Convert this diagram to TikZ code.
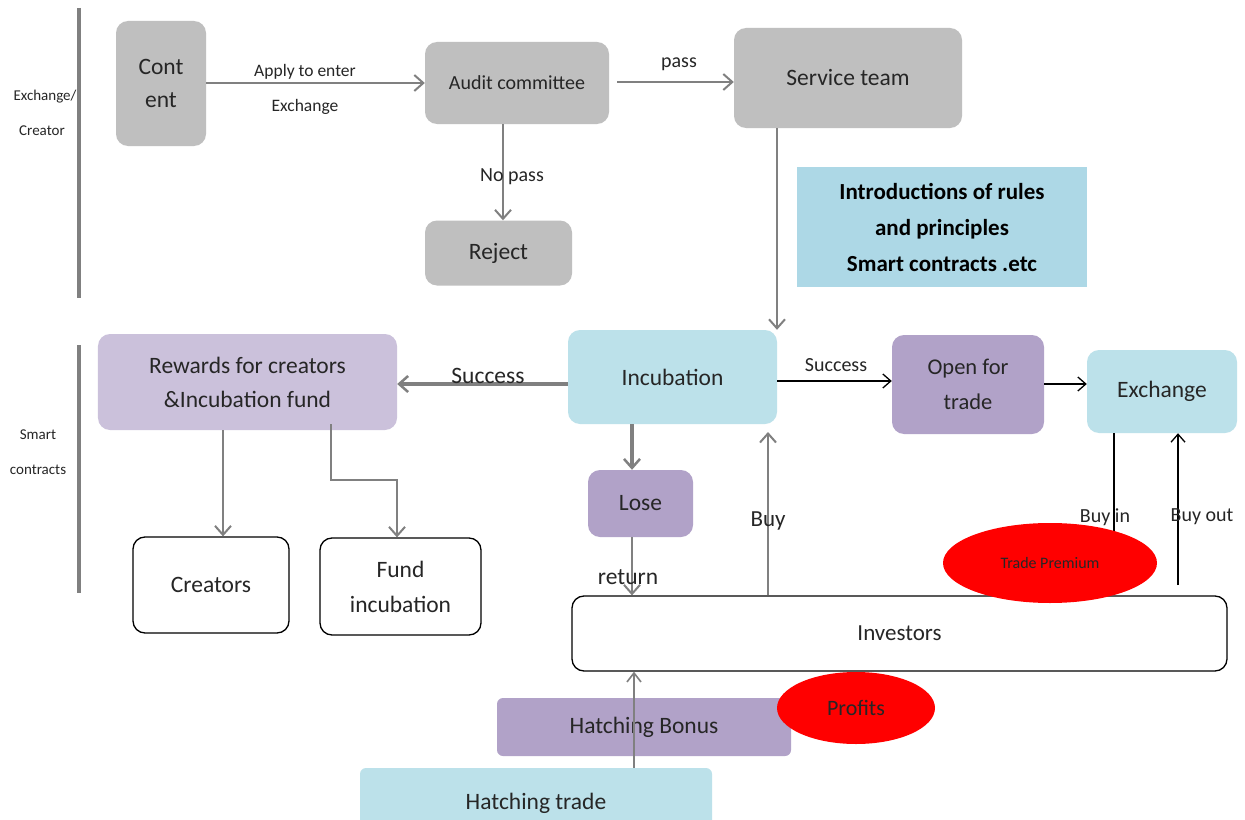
\documentclass[tikz,border=0pt]{standalone}
\usepackage{fontspec}
\setmainfont{Carlito}
\usetikzlibrary{arrows.meta,shapes.geometric}
\definecolor{boxgray}{HTML}{BFBFBF}
\definecolor{lblue}{HTML}{BCE1EA}
\definecolor{iblue}{HTML}{ADD8E6}
\definecolor{lav}{HTML}{CBC1DB}
\definecolor{purp}{HTML}{B1A2C8}
\definecolor{agray}{HTML}{808080}
\definecolor{txt}{HTML}{262626}
\tikzset{
  box/.style={rounded corners=12bp, inner sep=0pt, align=center, text=txt},
  graybox/.style={box, fill=boxgray},
  bluebox/.style={box, fill=lblue},
  lavbox/.style={box, fill=lav},
  purpbox/.style={box, fill=purp},
  whitebox/.style={box, draw=black, line width=1.3bp, fill=white},
  garrow/.style={draw=agray, line width=2bp, -{Straight Barb[length=9bp,width=16bp,line width=2bp]}},
  gthick/.style={draw=agray, line width=4bp, -{Straight Barb[length=9bp,width=16bp,line width=2.5bp]}},
  barrow/.style={draw=black, line width=1.1bp, -{Straight Barb[length=8bp,width=14bp,line width=1.3bp]}},
  lbl/.style={text=txt, inner sep=0pt},
  redell/.style={ellipse, fill=red, inner sep=0pt, text=txt},
  big/.style={font=\fontsize{23.5bp}{26bp}\selectfont},
  small/.style={font=\fontsize{15bp}{17bp}\selectfont},
  mid/.style={font=\fontsize{20bp}{23bp}\selectfont},
}
\begin{document}
\begin{tikzpicture}[x=1bp,y=-1bp]
\useasboundingbox (0,0) rectangle (1245,820);
\fill[white] (0,0) rectangle (1245,820);
\fontsize{23.5bp}{26bp}\selectfont
% side bars
\draw[agray, line width=3.5bp] (79,8) -- (79,298);
\draw[agray, line width=3.5bp] (79,345) -- (79,593);
\node[lbl, small] (l1) at (45,97) {Exchange/};
\node[lbl, small] (l2) at (42,131) {Creator};
\node[lbl, small] (l3) at (38,435) {Smart};
\node[lbl, small] (l4) at (38,470) {contracts};
% top row
\node[graybox, minimum width=90bp, minimum height=125bp, font=\fontsize{23.5bp}{33bp}\selectfont] (content) at (161,83.5) {Cont\\ent};
\node[graybox, minimum width=184bp, minimum height=82bp, mid] (audit) at (517,83) {Audit committee};
\node[graybox, minimum width=228bp, minimum height=100bp, big] (service) at (848,78) {Service team};
\node[graybox, minimum width=147bp, minimum height=65bp, big] (reject) at (498.5,253) {Reject};
\node[fill=iblue, minimum width=290bp, minimum height=120bp, inner sep=0pt, align=center, text=black, font=\bfseries\fontsize{23bp}{36bp}\selectfont] (intro) at (942,227) {Introductions of rules\\and principles\\Smart contracts .etc};
\draw[garrow] (content.east |- 0,83) -- (audit.west |- 0,83);
\node[lbl, font=\fontsize{17.5bp}{20bp}\selectfont] (apply1) at (305,72) {Apply to enter};
\node[lbl, font=\fontsize{17.5bp}{20bp}\selectfont] (apply2) at (305,107) {Exchange};
\coordinate (passS) at (617,82);
\draw[garrow] (passS) -- (service.west |- passS);
\node[lbl, mid] (passl) at (679,64) {pass};
\draw[garrow] (503,124) -- (reject.north -| 503,0);
\node[lbl, mid] (nopass) at (512,177) {No pass};
% middle row
\node[bluebox, minimum width=209bp, minimum height=94bp, big] (incub) at (672.5,377) {Incubation};
\node[lavbox, minimum width=299bp, minimum height=96bp, font=\fontsize{23.5bp}{34bp}\selectfont] (rewards) at (247.5,382) {Rewards for creators\\\&Incubation fund};
\node[purpbox, minimum width=152bp, minimum height=99bp, font=\fontsize{22.5bp}{35bp}\selectfont] (open) at (968,384.5) {Open for\\trade};
\node[bluebox, minimum width=150bp, minimum height=83bp, big] (exch) at (1162,391.5) {Exchange};
\node[purpbox, minimum width=105bp, minimum height=67bp, big] (lose) at (640.5,503.5) {Lose};
\node[whitebox, minimum width=156bp, minimum height=96bp, big] (creators) at (211,585) {Creators};
\node[whitebox, minimum width=161bp, minimum height=97bp, font=\fontsize{23.5bp}{35bp}\selectfont] (fund) at (400.5,586.5) {Fund\\incubation};
\node[whitebox, minimum width=655bp, minimum height=75bp, font=\fontsize{23bp}{26bp}\selectfont] (inv) at (899.5,633.5) {Investors};
\node[purpbox, minimum width=294bp, minimum height=58bp, rounded corners=6bp, big] (bonus) at (644,727) {Hatching Bonus};
\node[bluebox, minimum width=352bp, minimum height=70bp, rounded corners=6bp, big] (htrade) at (536,803) {Hatching trade};
% connectors
\draw[agray, line width=2bp, -{Straight Barb[length=9bp,width=16bp,line width=2bp]}] (service.south -| 777,0) -- (incub.north -| 777,0);
\draw[gthick] (incub.west |- 0,384) -- (rewards.east |- 0,384);
\node[lbl, big] (succ1) at (488,376) {Success};
\draw[garrow] (rewards.south -| 223,0) -- (creators.north -| 223,0);
\draw[garrow] (331,424) -- (331,480) -- (397,480) -- (fund.north -| 397,0);
\draw[gthick] (incub.south -| 632,0) -- (lose.north -| 632,0);
\draw[garrow] (lose.south -| 632,0) -- (inv.north -| 632,0);
\node[lbl, big] (ret) at (628,577) {return};
\draw[garrow] (inv.north -| 768,0) -- (768,432);
\node[lbl, font=\fontsize{23bp}{26bp}\selectfont] (buy) at (768,521) {Buy};
\draw[barrow] (incub.east |- 0,381) -- (open.west |- 0,381);
\node[lbl, mid] (succ2) at (836,365) {Success};
\draw[barrow] (open.east |- 0,384) -- (exch.west |- 0,384);
\draw[black, line width=1.1bp] (exch.south -| 1114,0) -- (inv.north -| 1114,0);
\draw[barrow] (1178,585) -- (exch.south -| 1178,0);
\node[lbl, mid] (buyin) at (1105,517) {Buy in};
\node[lbl, mid] (buyout) at (1202,517) {Buy out};
\draw[agray, line width=1.6bp, -{Straight Barb[length=9bp,width=14bp,line width=1.6bp]}] (htrade.north -| 634,0) -- (inv.south -| 634,0);
\node[redell, minimum width=214bp, minimum height=80bp, font=\fontsize{16bp}{18bp}\selectfont] (prem) at (1050,563) {Trade Premium};
\node[redell, minimum width=158bp, minimum height=72bp, font=\fontsize{22bp}{24bp}\selectfont] (prof) at (856,708) {Profits};
\end{tikzpicture}
\end{document}
